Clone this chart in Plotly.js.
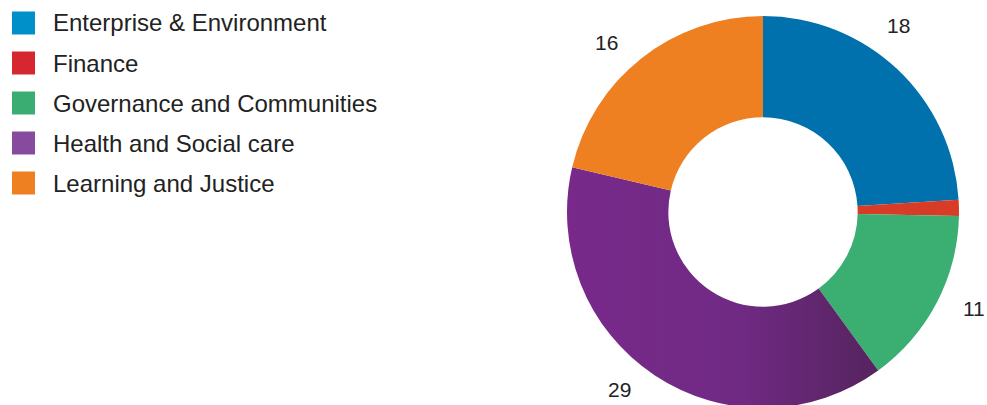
<!DOCTYPE html>
<html>
<head>
<meta charset="utf-8">
<script src="https://cdn.plot.ly/plotly-3.0.1.min.js"></script>
<style>
html,body{margin:0;padding:0;overflow:hidden;background:#fff;width:987px;height:405px;}
#chart{width:987px;height:424px;}
</style>
</head>
<body>
<div id="chart"></div>
<script>
const categories = ["Enterprise & Environment", "Finance", "Governance and Communities", "Health and Social care", "Learning and Justice"];
const values = [18, 1, 11, 29, 16];
const sliceColors = ["#0071AD", "#D83B26", "#3BAE72", "#762A89", "#EF8022"];
const legendColors = ["#0090C9", "#D6262F", "#3AAE72", "#864A9E", "#EF8022"];

const W = 987, H = 424;
const cx = 763, cy = 212, R = 196;
const labelR = 230;
// small per-label pixel nudges (layout only) to match the reference placement
const labelNudge = [[-22, -19], [1, -7], [7, -10], [-16, -14], [-14, 11]];

const trace = {
  type: "pie",
  labels: categories,
  values: values,
  sort: false,
  direction: "clockwise",
  rotation: 0,
  hole: 0.483,
  marker: {colors: sliceColors, line: {width: 0}},
  textinfo: "none",
  hoverinfo: "label+value",
  showlegend: false,
  domain: {x: [(cx - R) / W, (cx + R) / W], y: [0, 1]}
};

const annotations = [];
const shapes = [];
const total = values.reduce((a, b) => a + b, 0);
let cum = 0;
values.forEach((v, i) => {
  const mid = (cum + v / 2) / total * 2 * Math.PI;
  cum += v;
  const px = cx + labelR * Math.sin(mid);
  const py = cy - labelR * Math.cos(mid);
  annotations.push({
    xref: "paper", yref: "paper",
    x: px / W, y: 1 - py / H,
    xshift: labelNudge[i][0], yshift: -labelNudge[i][1],
    xanchor: "center", yanchor: "middle",
    text: String(v), showarrow: false,
    font: {family: "Liberation Sans, Arial, sans-serif", size: 21, color: "#222"}
  });
});
categories.forEach((c, i) => {
  const yc = 23 + 40 * i;
  shapes.push({
    type: "rect", xref: "paper", yref: "paper",
    x0: 12 / W, x1: 35 / W, y0: 1 - (yc + 11.5) / H, y1: 1 - (yc - 11.5) / H,
    fillcolor: legendColors[i], line: {width: 0}
  });
  annotations.push({
    xref: "paper", yref: "paper",
    x: 51 / W, y: 1 - yc / H,
    xanchor: "left", yanchor: "middle",
    text: c, showarrow: false,
    font: {family: "Liberation Sans, Arial, sans-serif", size: 24, color: "#222"}
  });
});

const layout = {
  width: W, height: H,
  margin: {l: 0, r: 0, t: 0, b: 0},
  paper_bgcolor: "#fff",
  plot_bgcolor: "#fff",
  showlegend: false,
  annotations: annotations,
  shapes: shapes
};

Plotly.newPlot("chart", [trace], layout, {displayModeBar: false, staticPlot: true}).then(() => {
  const svg = document.querySelector("#chart .main-svg");
  const ns = "http://www.w3.org/2000/svg";
  let defs = svg.querySelector("defs");
  if (!defs) { defs = document.createElementNS(ns, "defs"); svg.insertBefore(defs, svg.firstChild); }
  const grad = document.createElementNS(ns, "linearGradient");
  grad.setAttribute("id", "purpleGrad");
  grad.setAttribute("x1", "0"); grad.setAttribute("y1", "0");
  grad.setAttribute("x2", "1"); grad.setAttribute("y2", "0");
  [["0", "#78298A"], ["0.55", "#702A84"], ["1", "#55245E"]].forEach(([o, c]) => {
    const s = document.createElementNS(ns, "stop");
    s.setAttribute("offset", o); s.setAttribute("stop-color", c);
    grad.appendChild(s);
  });
  defs.appendChild(grad);
  const paths = document.querySelectorAll("#chart .slice path.surface");
  if (paths[3]) paths[3].style.fill = "url(#purpleGrad)";
});
</script>
</body>
</html>
